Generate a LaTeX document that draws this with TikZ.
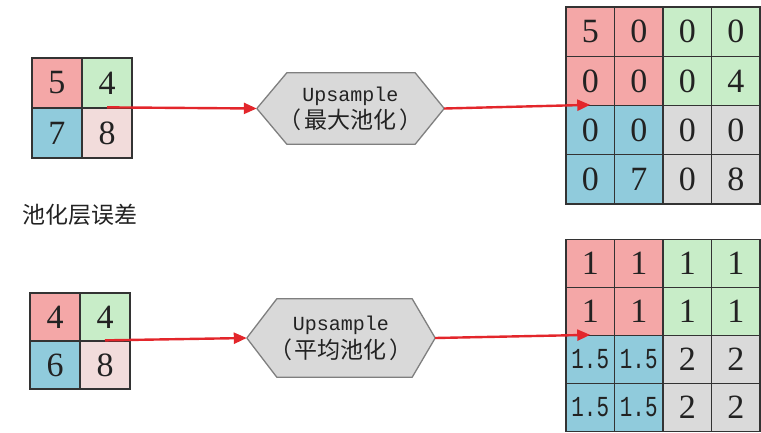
\documentclass[tikz,border=0pt]{standalone}
\usepackage{fontspec}
\setmainfont{Liberation Serif}
\newfontfamily\cjkfont{Noto Sans CJK SC}
\newfontfamily\monofont{Liberation Mono}
\newfontfamily\narrowmono[FakeStretch=0.72]{Liberation Mono}
\usetikzlibrary{arrows.meta,backgrounds}

\definecolor{cred}{HTML}{F4A7A7}
\definecolor{cgreen}{HTML}{C8EDC8}
\definecolor{cblue}{HTML}{90CBDC}
\definecolor{cpink}{HTML}{F2DCDB}
\definecolor{cgray}{HTML}{DADADA}
\definecolor{cellline}{HTML}{333333}
\definecolor{hexfill}{HTML}{D9D9D9}
\definecolor{hexline}{HTML}{7F7F7F}
\definecolor{flow}{HTML}{E3262B}
\definecolor{ink}{HTML}{222222}

\tikzset{
  cell/.style={draw=cellline, line width=1.3pt, inner sep=0pt, text=ink,
    font=\fontsize{34}{36}\selectfont},
  small/.style={font=\narrowmono\fontsize{29}{30}\selectfont},
  hexbox/.style={inner sep=0pt, align=center, text=ink},
  hexedge/.style={draw=hexline, fill=hexfill, line width=1.3pt, line join=round},
  flowarrow/.style={draw=flow, line width=2.4pt,
    -{Triangle[length=13pt,width=11pt]}},
}

\begin{document}
\begin{tikzpicture}[x=1pt,y=-1pt]
\useasboundingbox (0,0) rectangle (761,432);

% ---- max pooling: pooled error 2x2
\begin{scope}[every node/.append style={cell, minimum width=50pt, minimum height=50pt}]
\node[fill=cred]   (s11) at (57,83)   {5};
\node[fill=cgreen] (s12) at (107,83)  {4};
\node[fill=cblue]  (s21) at (57,133)  {7};
\node[fill=cpink]  (s22) at (107,133) {8};
\end{scope}

% ---- max pooling: upsampled 4x4
\begin{scope}[every node/.append style={cell, minimum width=48.5pt, minimum height=49.25pt}]
\foreach \r/\c/\f/\t in {
  1/1/cred/5, 1/2/cred/0, 1/3/cgreen/0, 1/4/cgreen/0,
  2/1/cred/0, 2/2/cred/0, 2/3/cgreen/0, 2/4/cgreen/4,
  3/1/cblue/0, 3/2/cblue/0, 3/3/cgray/0, 3/4/cgray/0,
  4/1/cblue/0, 4/2/cblue/7, 4/3/cgray/0, 4/4/cgray/8}
  \node[fill=\f] (T\r\c) at ({566+48.5*(\c-0.5)},{7+49.25*(\r-0.5)}) {\t};
\end{scope}

% ---- average pooling: pooled error 2x2
\begin{scope}[every node/.append style={cell, minimum width=50pt, minimum height=48pt}]
\node[fill=cred]   (u11) at (55,317) {4};
\node[fill=cgreen] (u12) at (105,317) {4};
\node[fill=cblue]  (u21) at (55,365) {6};
\node[fill=cpink]  (u22) at (105,365) {8};
\end{scope}

% ---- average pooling: upsampled 4x4
\begin{scope}[every node/.append style={cell, minimum width=48.5pt, minimum height=48pt}]
\foreach \r/\c/\f/\t/\s in {
  1/1/cred/1/, 1/2/cred/1/, 1/3/cgreen/1/, 1/4/cgreen/1/,
  2/1/cred/1/, 2/2/cred/1/, 2/3/cgreen/1/, 2/4/cgreen/1/,
  3/1/cblue/1.5/small, 3/2/cblue/1.5/small, 3/3/cgray/2/, 3/4/cgray/2/,
  4/1/cblue/1.5/small, 4/2/cblue/1.5/small, 4/3/cgray/2/, 4/4/cgray/2/}
  \node[fill=\f, \s] (B\r\c) at ({566+48.5*(\c-0.5)},{239.5+48*(\r-0.5)}) {\t};
\end{scope}

% ---- upsample operators
\node[hexbox, minimum width=187pt, minimum height=71pt] (h1) at (350.5,108.5)
  {{\monofont\fontsize{20}{27}\selectfont Upsample}\\[2pt]
   {\cjkfont\fontsize{23}{27}\selectfont （\hspace{3pt}最大池化\hspace{3pt}）}};
\node[hexbox, minimum width=188pt, minimum height=78pt] (h2) at (341,338)
  {{\monofont\fontsize{20}{27}\selectfont Upsample}\\[3pt]
   {\cjkfont\fontsize{23}{27}\selectfont （\hspace{3pt}平均池化\hspace{3pt}）}};
\begin{scope}[on background layer]
\path[hexedge] (h1.west) -- ([xshift=30pt]h1.north west) -- ([xshift=-29pt]h1.north east)
  -- (h1.east) -- ([xshift=-29pt]h1.south east) -- ([xshift=30pt]h1.south west) -- cycle;
\path[hexedge] (h2.west) -- ([xshift=30pt]h2.north west) -- ([xshift=-23pt]h2.north east)
  -- (h2.east) -- ([xshift=-23pt]h2.south east) -- ([xshift=30pt]h2.south west) -- cycle;
\end{scope}

% ---- caption
\node[text=ink, font=\cjkfont\fontsize{23}{25}\selectfont] (cap) at (80,215) {池化层误差};

% ---- flow arrows
\draw[flowarrow] (s22.north) -- (h1.west);
\draw[flowarrow] (h1.east) -- (T31.north);
\draw[flowarrow] (u22.north) -- (h2.west);
\draw[flowarrow] (h2.east) -- (B31.north);
\end{tikzpicture}
\end{document}
